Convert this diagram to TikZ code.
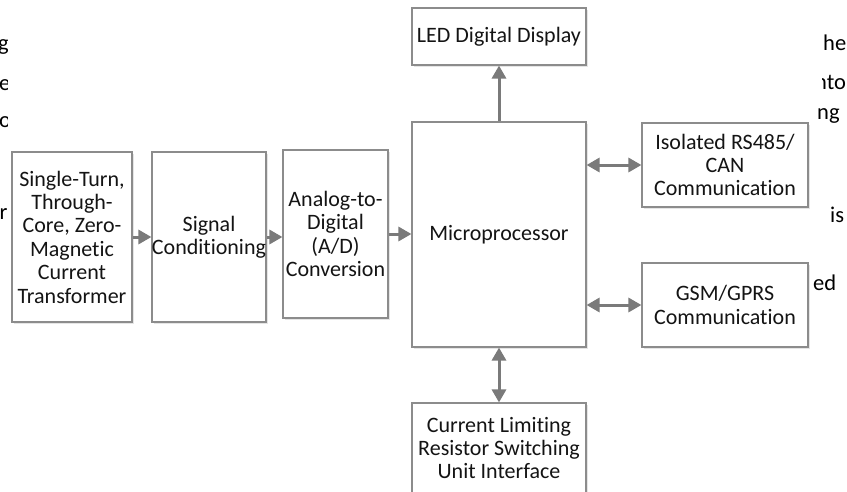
\documentclass[tikz,border=0pt]{standalone}
\usepackage{fontspec}
\setmainfont{Carlito}[Ligatures={NoCommon}]
\usetikzlibrary{arrows.meta,shadows}
\definecolor{boxline}{HTML}{8C8C8C}
\definecolor{arr}{HTML}{7A7A7A}
\tikzset{
 blk/.style={draw=boxline, line width=1.1pt, fill=white, align=center, inner sep=0pt,
   font=\fontsize{22}{23.4}\selectfont, text=black!92,
   drop shadow={shadow xshift=1.6pt, shadow yshift=-1.6pt, opacity=0.25, fill=black!40}},
 ar/.style={draw=arr, line width=3pt, -{Triangle[length=13pt,width=14pt]}},
 dar/.style={draw=arr, line width=3pt, {Triangle[length=13pt,width=14pt]}-{Triangle[length=13pt,width=14pt]}},
 frag/.style={font=\fontsize{22.5}{27}\selectfont, inner sep=0pt, anchor=base west, text=black}
}
\begin{document}
\begin{tikzpicture}[x=1pt,y=-1pt]
\useasboundingbox (0,0) rectangle (847,491);
\clip (0,0) rectangle (847,491);
% background text fragments
\begin{scope}\clip (0,0) rectangle (7.5,491);
 \node[frag] (f1) at (-2,50) {g};
 \node[frag] (f2) at (-1,90) {e};
 \node[frag] (f3) at (-1,127) {o};
\end{scope}
\node[frag] (f4) at (-0.5,219) {r};
\node[frag] (f5) at (823,50) {he};
\begin{scope}\clip (822,0) rectangle (847,491);
 \node[frag] (f6) at (815,89) {nto};
\end{scope}
\node[frag] (f7) at (817,119) {ng};
\node[frag] (f8) at (830,222) {is};
\node[frag] (f9) at (813,290) {ed};
% blocks
\node[blk, minimum width=120pt, minimum height=170pt] (ct) at (72,237) {Single-Turn,\\Through-\\Core, Zero-\\Magnetic\\Current\\Transformer};
\node[blk, minimum width=112pt, minimum height=170pt] (sc) at (209,237) {Signal\\Conditioning};
\node[blk, minimum width=105pt, minimum height=168pt] (adc) at (335.5,234) {Analog-to-\\Digital\\(A/D)\\Conversion};
\node[blk, minimum width=174pt, minimum height=225pt] (mp) at (499,234.5) {Microprocessor};
\node[blk, minimum width=174pt, minimum height=57pt] (led) at (499,36.5) {LED Digital Display};
\node[blk, minimum width=166pt, minimum height=84pt] (rs) at (725,165) {Isolated RS485/\\CAN\\Communication};
\node[blk, minimum width=166pt, minimum height=84pt] (gsm) at (725,305) {GSM/GPRS\\Communication};
\node[blk, minimum width=174pt, minimum height=90pt] (cl) at (499,448) {Current Limiting\\Resistor Switching\\Unit Interface};
% connectors
\draw[ar] (ct.east) -- (sc.west);
\draw[ar] (sc.east) -- (sc.east -| adc.west);
\draw[ar] (adc.east) -- (adc.east -| mp.west);
\draw[ar] (mp.north) -- (led.south);
\draw[dar] (rs.west -| mp.east) -- (rs.west);
\draw[dar] (gsm.west -| mp.east) -- (gsm.west);
\draw[dar] (mp.south) -- (cl.north);
\end{tikzpicture}
\end{document}
